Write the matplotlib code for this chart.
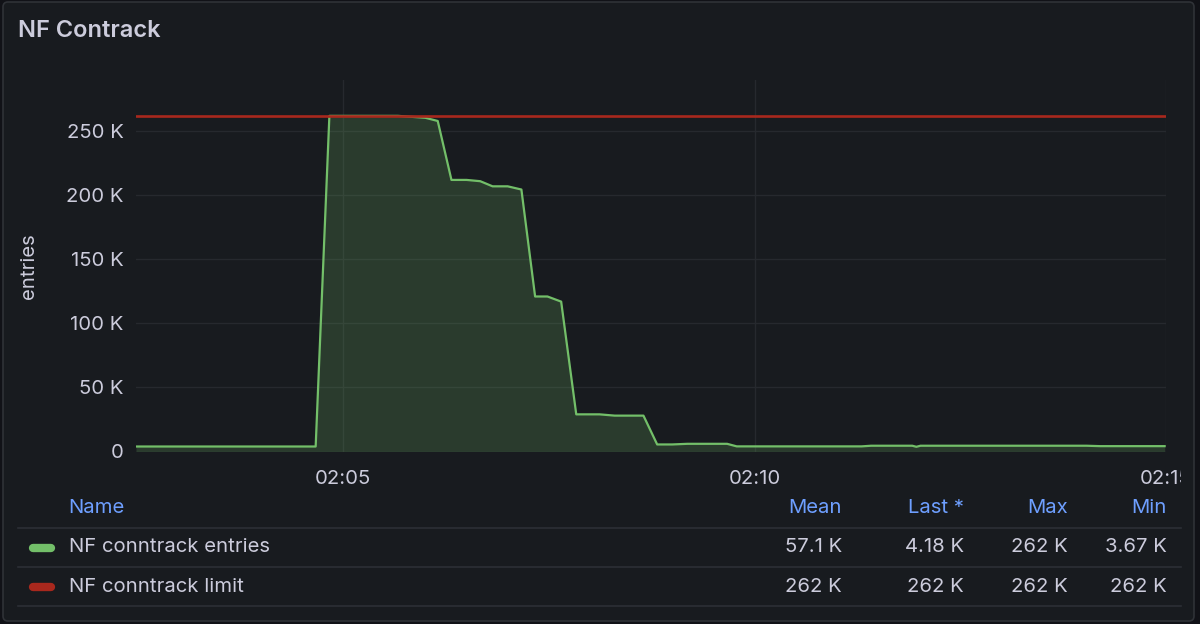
import matplotlib
matplotlib.use("Agg")
import matplotlib.pyplot as plt
import matplotlib.dates as mdates
from matplotlib.patches import FancyBboxPatch
from matplotlib.transforms import IdentityTransform, Bbox
from matplotlib.ticker import FuncFormatter, FixedLocator
import pandas as pd

# ---------------- data ----------------
title = "NF Contrack"
y_label = "entries"
series_names = ["NF conntrack entries", "NF conntrack limit"]
stat_headers = ["Mean", "Last *", "Max", "Min"]
stats_entries = ["57.1 K", "4.18 K", "262 K", "3.67 K"]
stats_limit = ["262 K", "262 K", "262 K", "262 K"]

entries_times = [
    "02:02:29", "02:03:30", "02:04:40", "02:04:50", "02:05:40", "02:06:00",
    "02:06:09", "02:06:19", "02:06:30", "02:06:40", "02:06:49", "02:07:00",
    "02:07:10", "02:07:20", "02:07:29", "02:07:39", "02:07:50", "02:08:07",
    "02:08:18", "02:08:39", "02:08:49", "02:09:00", "02:09:11", "02:09:40",
    "02:09:47", "02:11:18", "02:11:25", "02:11:55", "02:11:58", "02:12:01",
    "02:14:02", "02:14:12", "02:14:59",
]
entries_values = [
    3900, 3900, 3900, 262000, 262000, 260500,
    258000, 212000, 212000, 211000, 207000, 207000,
    204500, 121000, 121000, 117000, 29000, 29000,
    28000, 28000, 5500, 5500, 6000, 6000,
    4000, 4000, 4500, 4500, 3670, 4500,
    4500, 4180, 4180,
]
limit_times = ["02:02:29", "02:15:00"]
limit_values = [262144, 262144]

x_range = ["02:02:29", "02:15:00"]
y_max = 290000
y_ticks = [0, 50000, 100000, 150000, 200000, 250000]

day = "2024-01-01 "
t_entries = pd.to_datetime([day + t for t in entries_times])
t_limit = pd.to_datetime([day + t for t in limit_times])
t_range = pd.to_datetime([day + t for t in x_range])

# ---------------- style ----------------
W, H = 1200, 624
BG_OUT = "#111217"
BG = "#181b1f"
BORDER = "#2f3237"
TXT = "#ccccdc"
BLUE = "#6e9fff"
GREEN = "#73bf69"
RED = "#a8281d"
GRID = "#26292e"
FONT = ["Inter", "DejaVu Sans"]
FS = 14.6
plt.rcParams["font.family"] = FONT

fig = plt.figure(figsize=(W / 100, H / 100), dpi=100, facecolor=BG_OUT)

panel = FancyBboxPatch((3, 3), 1191, 619, boxstyle="round,pad=0,rounding_size=5",
                       transform=IdentityTransform(), facecolor=BG,
                       edgecolor=BORDER, linewidth=1.2, zorder=-5)
fig.patches.append(panel)


def fx(px):
    return px / W


def fy(py):
    return 1 - py / H


# plot area
left, right, top, bottom = 136, 1166, 80, 451.5
ax = fig.add_axes([fx(left), fy(bottom), fx(right - left), (bottom - top) / H])
ax.set_zorder(2)
ax.set_facecolor("none")
for s in ax.spines.values():
    s.set_visible(False)

ax.fill_between(t_entries, entries_values, 0, color=GREEN, alpha=0.2, linewidth=0, zorder=2)
ax.plot(t_entries, entries_values, color=GREEN, lw=1.6, zorder=3)
ax.plot(t_limit, limit_values, color=RED, lw=1.9, zorder=4)

ax.set_xlim(t_range[0], t_range[1])
ax.set_ylim(0, y_max)
ax.yaxis.set_major_locator(FixedLocator(y_ticks))
ax.yaxis.set_major_formatter(FuncFormatter(lambda v, p: "0" if v == 0 else f"{v/1000:.0f} K"))
ax.xaxis.set_major_locator(mdates.MinuteLocator(byminute=[0, 5, 10, 15, 20, 25, 30, 35, 40, 45, 50, 55]))
ax.xaxis.set_major_formatter(mdates.DateFormatter("%H:%M"))
ax.grid(True, color=GRID, linewidth=1, zorder=0)
ax.set_axisbelow(True)
ax.tick_params(axis="both", length=0, colors=TXT, labelsize=FS)
ax.tick_params(axis="y", pad=9)
ax.tick_params(axis="x", pad=13)

# clip x tick labels at the panel's inner edge (as in the reference)
clip = Bbox.from_extents(0, 0, 1181, H)
fig.canvas.draw()
for lab in ax.get_xticklabels():
    lab.set_clip_box(clip)
    lab.set_clip_on(True)

fig.text(fx(29), fy(266), y_label, rotation=90, color=TXT, fontsize=FS,
         ha="center", va="center")

# title
fig.text(fx(18), fy(31), title, color=TXT, fontsize=17, fontweight="semibold",
         ha="left", va="center")

# legend table
sep_y = [527.5, 566.5, 606]
for yy in sep_y:
    fig.add_artist(plt.Line2D([fx(18), fx(1181)], [fy(yy), fy(yy)], color="#2c2f35",
                              lw=1.2, transform=fig.transFigure))
fig.text(fx(68), fy(508), "Name", color=BLUE, fontsize=FS, ha="left", va="center")
col_x = [842, 964, 1068, 1167]
for cx, hd in zip(col_x, stat_headers):
    fig.text(fx(cx), fy(508), hd, color=BLUE, fontsize=FS, ha="right", va="center")

rows_y = [547.5, 586.5]
row_colors = [GREEN, RED]
row_stats = [stats_entries, stats_limit]
for ry, name, col, st in zip(rows_y, series_names, row_colors, row_stats):
    fig.add_artist(plt.Line2D([fx(33), fx(51)], [fy(ry), fy(ry)], color=col, lw=6,
                              solid_capstyle="round", transform=fig.transFigure))
    fig.text(fx(69), fy(ry), name, color=TXT, fontsize=FS, ha="left", va="center")
    for cx, v in zip(col_x, st):
        fig.text(fx(cx), fy(ry), v, color=TXT, fontsize=FS, ha="right", va="center")

fig.savefig("out.png", dpi=100, facecolor=BG_OUT)
